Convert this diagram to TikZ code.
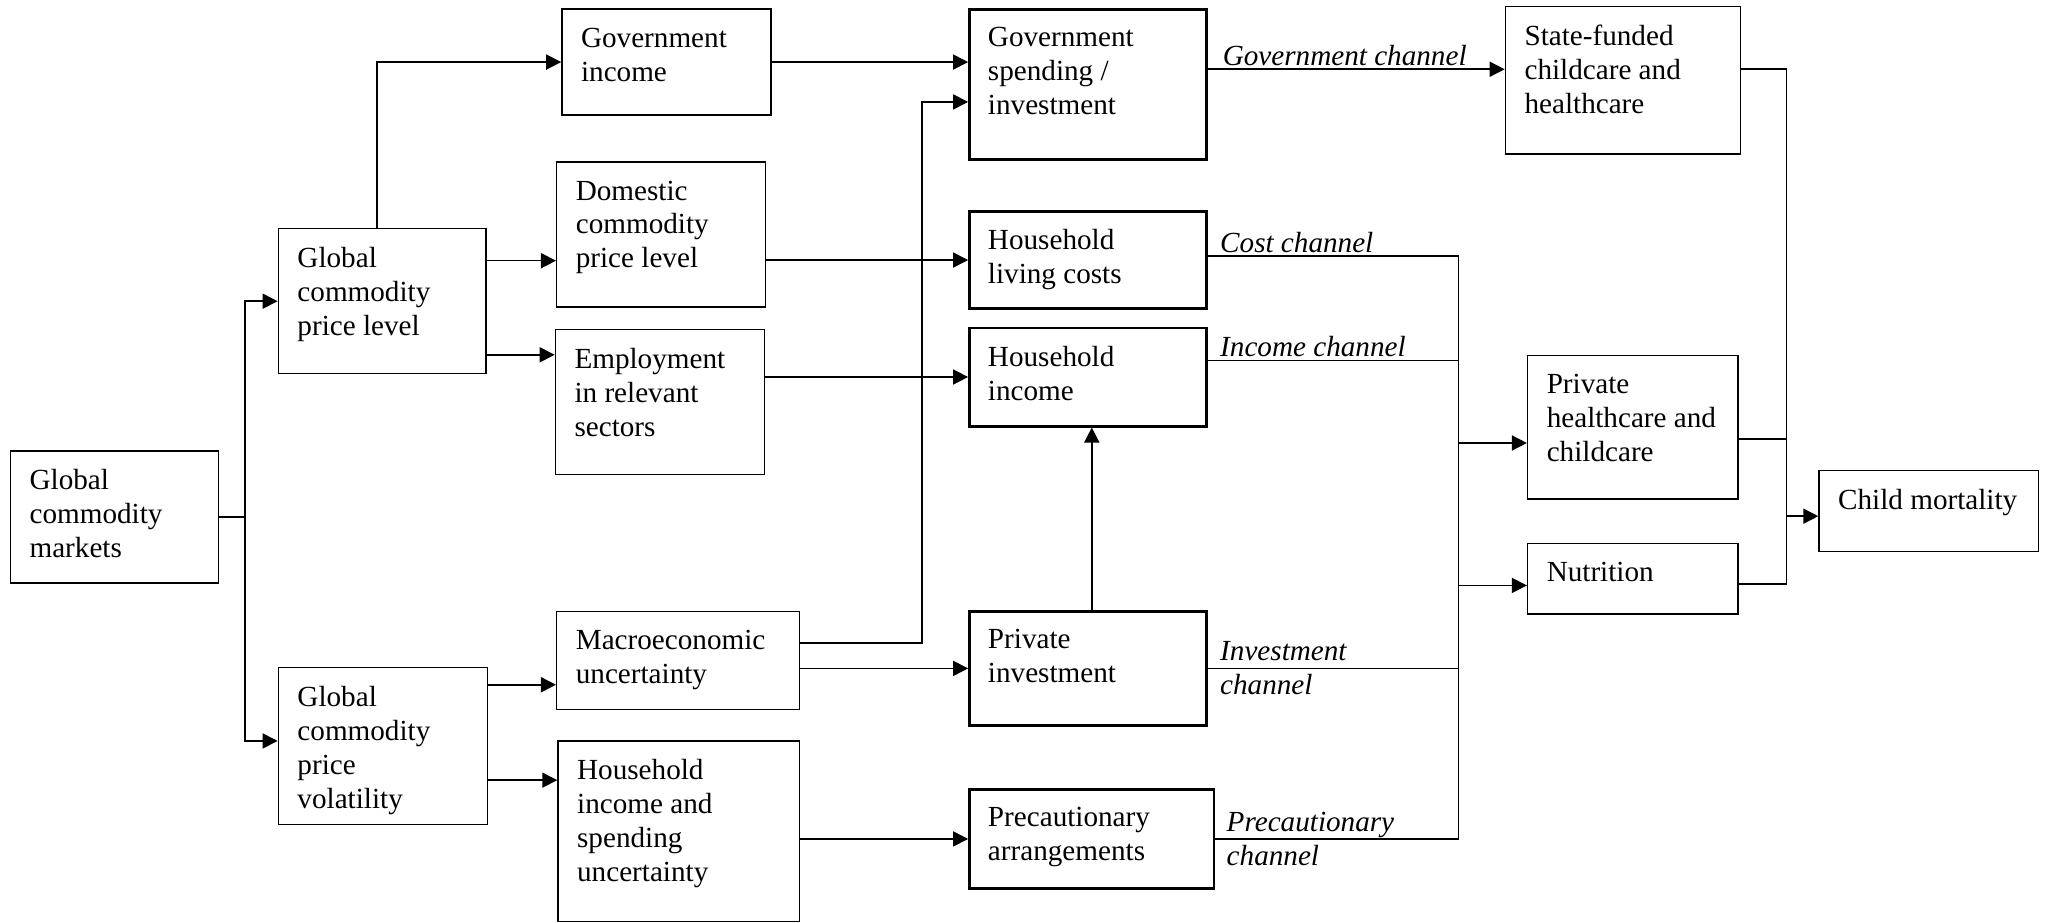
\documentclass[tikz,border=0pt]{standalone}
\usepackage{fontspec}
\setmainfont{Liberation Serif}
\usetikzlibrary{positioning, arrows.meta, fit}

\begin{document}
\begin{tikzpicture}[
    x=0.026136cm, y=-0.026136cm,
    font=\fontsize{16.6}{19.3}\selectfont,
    box/.style={draw=black, line width=0.8pt, inner sep=0pt},
    hub/.style={box, line width=1.7pt},
    txt/.style={anchor=north west, align=left, inner xsep=0.39cm, inner ysep=0.38cm},
    chan/.style={font=\fontsize{16.6}{19.3}\selectfont\itshape, align=left, inner sep=1pt},
    line/.style={draw=black, line width=0.9pt},
    arrow/.style={line, -{Triangle[length=0.3cm, width=0.3cm]}},
]
\useasboundingbox (0,0) rectangle (1568,706);

% ── Drivers ──────────────────────────────────────────────────────────
\node[box, fit={(8,345)(167,446)},
      label={[txt]north west:{Global\\commodity\\markets}}] (markets) {};
\node[box, fit={(213,175)(372,286)},
      label={[txt]north west:{Global\\commodity\\price level}}] (level) {};
\node[box, fit={(213,511)(373,631)},
      label={[txt]north west:{Global\\commodity\\price\\volatility}}] (volat) {};

% ── Intermediate effects ─────────────────────────────────────────────
\node[box, fit={(430,7)(590,88)},
      label={[txt]north west:{Government\\income}}] (govinc) {};
\node[box, fit={(426,124)(586,235)},
      label={[txt]north west:{Domestic\\commodity\\price level}}] (domprice) {};
\node[box, fit={(425,252)(585,363)},
      label={[txt]north west:{Employment\\in relevant\\sectors}}] (employ) {};
\node[box, fit={(426,468)(612,543)},
      label={[txt]north west:{Macroeconomic\\uncertainty}}] (macro) {};
\node[box, fit={(427,567)(612,705)},
      label={[txt]north west:{Household\\income and\\spending\\uncertainty}}] (hhunc) {};

% ── Channels (bold boxes) ────────────────────────────────────────────
\node[hub, fit={(742,7)(923,122)},
      label={[txt]north west:{Government\\spending /\\investment}}] (govspend) {};
\node[hub, fit={(742,162)(923,236)},
      label={[txt]north west:{Household\\living costs}}] (hhcost) {};
\node[hub, fit={(742,251)(923,326)},
      label={[txt]north west:{Household\\income}}] (hhincome) {};
\node[hub, fit={(742,468)(923,555)},
      label={[txt]north west:{Private\\investment}}] (privinv) {};
\node[hub, fit={(742,604)(929,680)},
      label={[txt]north west:{Precautionary\\arrangements}}] (precaut) {};

% ── Outcomes ─────────────────────────────────────────────────────────
\node[box, fit={(1152,5)(1332,118)},
      label={[txt]north west:{State-funded\\childcare and\\healthcare}}] (statecare) {};
\node[box, fit={(1169,272)(1330,382)},
      label={[txt]north west:{Private\\healthcare and\\childcare}}] (privcare) {};
\node[box, fit={(1169,416)(1330,470)},
      label={[txt]north west:{Nutrition}}] (nutrition) {};
\node[box, fit={(1392,360)(1560,422)},
      label={[txt]north west:{Child mortality}}] (mortality) {};

% ── Junctions and offsets ────────────────────────────────────────────
\coordinate (chbus) at (1116,0);
\coordinate (mbus)  at (1367,0);
\path ([shift={(-4,0)}]level.north)     coordinate (lvt)
      ([shift={(0,-31)}]level.east)     coordinate (lv1)
      ([shift={(0,41)}]level.east)      coordinate (lv2)
      ([shift={(0,-4)}]volat.west)      coordinate (vow)
      ([shift={(0,-47)}]volat.east)     coordinate (vo1)
      ([shift={(0,26)}]volat.east)      coordinate (vo2)
      ([shift={(0,-13.5)}]macro.east)   coordinate (ma1)
      ([shift={(0,13.5)}]govspend.west) coordinate (gs1)
      ([shift={(0,-11.5)}]govspend.east) coordinate (gs2)
      ([shift={(0,-3)}]hhcost.east)     coordinate (hc1)
      ([shift={(0,-12.5)}]hhincome.east) coordinate (hi1)
      ([shift={(0,12)}]privcare.west)   coordinate (pc1)
      ([shift={(0,5)}]nutrition.west)   coordinate (nu1)
      ([shift={(0,-8.5)}]statecare.east) coordinate (sc1)
      ([shift={(0,9)}]privcare.east)    coordinate (pc2)
      ([shift={(0,4)}]nutrition.east)   coordinate (nu2)
      ([shift={(0,4)}]mortality.west)   coordinate (mo1);

% markets -> drivers
\draw[line] (markets.east) -- ++(20,0) coordinate (split);
\draw[arrow] (split) |- (level.west);
\draw[arrow] (split) |- (vow);

% drivers -> intermediate
\draw[arrow] (lvt) |- (govinc.west);
\draw[arrow] (lv1) -- (lv1 -| domprice.west);
\draw[arrow] (lv2) -- (lv2 -| employ.west);
\draw[arrow] (vo1) -- (vo1 -| macro.west);
\draw[arrow] (vo2) -- (vo2 -| hhunc.west);

% intermediate -> channels
\draw[arrow] (govinc.east) -- (govinc.east -| govspend.west);
\draw[arrow] (domprice.east |- hhcost.west) -- (hhcost.west);
\draw[arrow] (employ.east |- hhincome.west) -- (hhincome.west);
\draw[arrow] (ma1) -- ++(93,0) |- (gs1);
\draw[arrow] (macro.east |- privinv.west) -- (privinv.west);
\draw[arrow] ([shift={(3,0)}]privinv.north) -- ([shift={(3,0)}]hhincome.south);
\draw[arrow] (hhunc.east |- precaut.west) -- (precaut.west);

% channels -> outcomes
\draw[arrow] (gs2) -- (gs2 -| statecare.west);
\node[chan, anchor=base west] (govlab) at ([shift={(10,-3)}]gs2) {Government channel};

\draw[line] (hc1) -- (hc1 -| chbus) -- (precaut.east -| chbus) -- (precaut.east);
\draw[line] (hi1) -- (hi1 -| chbus);
\draw[line] (privinv.east) -- (privinv.east -| chbus);
\node[chan, anchor=base west] (costlab) at ([shift={(8,-3)}]hc1) {Cost channel};
\node[chan, anchor=base west] (inclab)  at ([shift={(8,-3)}]hi1) {Income channel};
\node[chan, anchor=west] (invlab) at ([shift={(8,0)}]privinv.east) {Investment\\channel};
\node[chan, anchor=west] (prelab) at ([shift={(7,0)}]precaut.east) {Precautionary\\channel};

\draw[arrow] (pc1 -| chbus) -- (pc1);
\draw[arrow] (nu1 -| chbus) -- (nu1);

% outcomes -> child mortality
\draw[line] (sc1) -- (sc1 -| mbus) -- (nu2 -| mbus) -- (nu2);
\draw[line] (pc2) -- (pc2 -| mbus);
\draw[arrow] (mo1 -| mbus) -- (mo1);

\end{tikzpicture}
\end{document}
